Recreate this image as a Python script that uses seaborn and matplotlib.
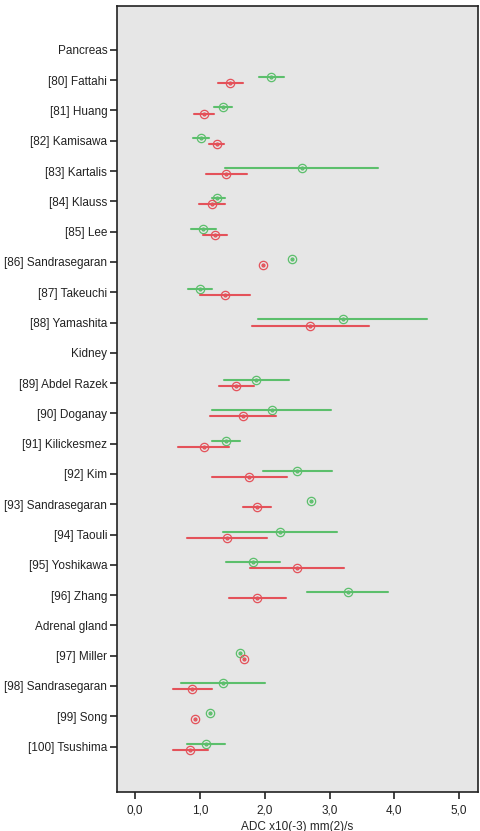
import numpy as np
import pandas as pd
import seaborn as sns
import matplotlib.pyplot as plt
from matplotlib.ticker import FuncFormatter

# Категории (сверху вниз)
studies = ['Pancreas', '[80] Fattahi', '[81] Huang', '[82] Kamisawa', '[83] Kartalis',
           '[84] Klauss', '[85] Lee', '[86] Sandrasegaran', '[87] Takeuchi', '[88] Yamashita',
           'Kidney', '[89] Abdel Razek', '[90] Doganay', '[91] Kilickesmez', '[92] Kim',
           '[93] Sandrasegaran', '[94] Taouli', '[95] Yoshikawa', '[96] Zhang',
           'Adrenal gland', '[97] Miller', '[98] Sandrasegaran', '[99] Song', '[100] Tsushima']

# Исследования с данными
data_studies = ['[80] Fattahi', '[81] Huang', '[82] Kamisawa', '[83] Kartalis',
                '[84] Klauss', '[85] Lee', '[86] Sandrasegaran', '[87] Takeuchi', '[88] Yamashita',
                '[89] Abdel Razek', '[90] Doganay', '[91] Kilickesmez', '[92] Kim',
                '[93] Sandrasegaran', '[94] Taouli', '[95] Yoshikawa', '[96] Zhang',
                '[97] Miller', '[98] Sandrasegaran', '[99] Song', '[100] Tsushima']

# Зелёная группа: среднее, нижняя и верхняя граница
green_mean = [2.09, 1.35, 1.01, 2.57, 1.27, 1.04, 2.42, 1.00, 3.20,
              1.87, 2.11, 1.40, 2.50, 2.72, 2.24, 1.82, 3.28,
              1.62, 1.36, 1.15, 1.09]
green_lo = [1.91, 1.21, 0.90, 1.39, 1.18, 0.86, 2.42, 0.82, 1.90,
            1.37, 1.19, 1.19, 1.97, 2.72, 1.36, 1.40, 2.65,
            1.62, 0.71, 1.15, 0.80]
green_hi = [2.29, 1.50, 1.14, 3.75, 1.38, 1.24, 2.42, 1.19, 4.51,
            2.38, 3.02, 1.62, 3.04, 2.72, 3.11, 2.24, 3.90,
            1.62, 2.01, 1.15, 1.39]

# Красная группа
red_mean = [1.47, 1.07, 1.26, 1.40, 1.18, 1.23, 1.98, 1.38, 2.70,
            1.56, 1.67, 1.06, 1.76, 1.88, 1.41, 2.50, 1.88,
            1.68, 0.88, 0.93, 0.85]
red_lo = [1.28, 0.91, 1.14, 1.10, 0.98, 1.05, 1.98, 1.00, 1.80,
          1.30, 1.15, 0.66, 1.18, 1.67, 0.80, 1.77, 1.45,
          1.68, 0.59, 0.93, 0.59]
red_hi = [1.66, 1.22, 1.37, 1.72, 1.38, 1.42, 1.98, 1.77, 3.61,
          1.84, 2.18, 1.45, 2.34, 2.10, 2.03, 3.23, 2.33,
          1.68, 1.18, 0.93, 1.13]

groups = ['g', 'r']
colors = {'g': '#5cbf6c', 'r': '#e4525a'}

# Длинная таблица: по три строки (низ, среднее, верх) на исследование и группу
rows = []
for i, s in enumerate(data_studies):
    for grp, lo, m, hi in (('g', green_lo, green_mean, green_hi), ('r', red_lo, red_mean, red_hi)):
        for v in (lo[i], m[i], hi[i]):
            rows.append({'study': s, 'group': grp, 'adc': v})
df = pd.DataFrame(rows)

sns.set_style('white')
plt.rcParams['font.family'] = ['Liberation Sans', 'DejaVu Sans']

fig = plt.figure(figsize=(4.81, 8.31), dpi=100)
ax = fig.add_axes([117 / 481, 39 / 831, 361 / 481, 786 / 831])
ax.set_facecolor('#e6e6e6')

# Медиана трёх значений = среднее, интервал 100% = от мин до макс
sns.pointplot(data=df, x='adc', y='study', hue='group', order=studies,
              hue_order=groups, palette=colors, estimator='median',
              errorbar=('pi', 100), dodge=0.2, linestyle='none',
              markers='o', markersize=6, markerfacecolor='none',
              markeredgewidth=0.9, err_kws={'linewidth': 1.5},
              legend=False, ax=ax)
# точка в центре маркера
sns.pointplot(data=df, x='adc', y='study', hue='group', order=studies,
              hue_order=groups, palette=colors, estimator='median',
              errorbar=None, dodge=0.2, linestyle='none',
              markers='o', markersize=1.0, legend=False, ax=ax)

ax.set_xlim(-0.28, 5.29)
ax.set_ylim(len(studies) - 1 + 1.5, -1.45)
ax.set_xticks([0, 1, 2, 3, 4, 5])
ax.xaxis.set_major_formatter(FuncFormatter(lambda v, p: f'{v:.1f}'.replace('.', ',')))
ax.set_xlabel('ADC x10(-3) mm(2)/s', fontsize=8.5, labelpad=3)
ax.set_ylabel('')
ax.tick_params(axis='both', direction='out', length=5, width=1.2, colors='#222222',
               labelsize=8.5, labelcolor='#222222', left=True, bottom=True, pad=2)
ax.tick_params(axis='x', pad=4)
for sp in ax.spines.values():
    sp.set_color('#222222')
    sp.set_linewidth(1.2)
    sp.set_visible(True)

fig.savefig('out.png', dpi=100)
